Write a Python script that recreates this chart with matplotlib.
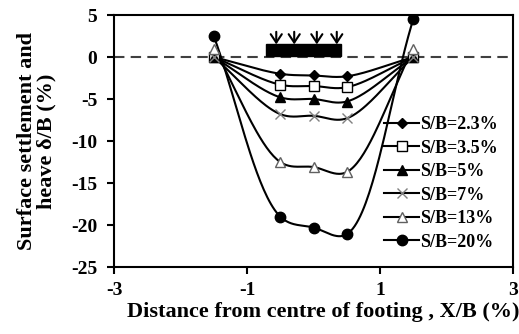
import numpy as np
import matplotlib
matplotlib.use("Agg")
import matplotlib.pyplot as plt
from matplotlib.patches import Rectangle

# ---- data ----
x_pos = [-1.5, -0.5, 0.0, 0.5, 1.5]
labels = ["S/B=2.3%", "S/B=3.5%", "S/B=5%", "S/B=7%", "S/B=13%", "S/B=20%"]
sb_2_3 = [0.0, -2.0, -2.2, -2.3, 0.0]
sb_3_5 = [0.0, -3.3, -3.45, -3.6, 0.0]
sb_5 = [0.0, -4.8, -5.0, -5.3, 0.0]
sb_7 = [0.0, -6.8, -7.0, -7.3, 0.0]
sb_13 = [1.0, -12.5, -13.1, -13.7, 1.0]
sb_20 = [2.5, -19.0, -20.3, -21.1, 4.5]
series = [sb_2_3, sb_3_5, sb_5, sb_7, sb_13, sb_20]

x_ticks = [-3, -1, 1, 3]
y_ticks = [5, 0, -5, -10, -15, -20, -25]

# footing sketch (annotation)
footing_x = (-0.71, 0.41)
footing_y = (0.1, 1.5)
arrow_x = [-0.56, -0.29, 0.05, 0.35]
arrow_top = 3.0

plt.rcParams['font.family'] = ['Liberation Serif', 'DejaVu Serif']
plt.rcParams['font.weight'] = 'bold'

styles = [
    dict(marker='D', mfc='black', mec='black', ms=5.5, mew=1.0),
    dict(marker='s', mfc='white', mec='black', ms=7, mew=1.0),
    dict(marker='^', mfc='black', mec='black', ms=7, mew=1.0),
    dict(marker='x', mfc='none', mec='#808080', ms=7, mew=1.0),
    dict(marker='^', mfc='white', mec='#606060', ms=7, mew=1.0),
    dict(marker='o', mfc='black', mec='black', ms=7.5, mew=1.0),
]


def centripetal_cr(P, n=40, alpha=0.5):
    P = np.asarray(P, float)
    P = np.vstack([P[0] - (P[1] - P[0]), P, P[-1] + (P[-1] - P[-2])])
    out = []
    for i in range(1, len(P) - 2):
        p0, p1, p2, p3 = P[i - 1], P[i], P[i + 1], P[i + 2]
        t0 = 0.0
        t1 = t0 + np.linalg.norm(p1 - p0) ** alpha
        t2 = t1 + np.linalg.norm(p2 - p1) ** alpha
        t3 = t2 + np.linalg.norm(p3 - p2) ** alpha
        t = np.linspace(t1, t2, n)[:, None]
        a1 = (t1 - t) / (t1 - t0) * p0 + (t - t0) / (t1 - t0) * p1
        a2 = (t2 - t) / (t2 - t1) * p1 + (t - t1) / (t2 - t1) * p2
        a3 = (t3 - t) / (t3 - t2) * p2 + (t - t2) / (t3 - t2) * p3
        b1 = (t2 - t) / (t2 - t0) * a1 + (t - t0) / (t2 - t0) * a2
        b2 = (t3 - t) / (t3 - t1) * a2 + (t - t1) / (t3 - t1) * a3
        c = (t2 - t) / (t2 - t1) * b1 + (t - t1) / (t2 - t1) * b2
        out.append(c if i == 1 else c[1:])
    return np.vstack(out)


fig = plt.figure(figsize=(5.19, 3.34), dpi=100)
ax = fig.add_axes([114 / 519, 1 - 267 / 334, (513 - 114) / 519, (267 - 15) / 334])
ax.set_xlim(-3, 3)
ax.set_ylim(-25, 5)

ax.axhline(0, color='#404040', lw=1.5, ls=(0, (5, 3)), zorder=1)

for ys, lab, st in zip(series, labels, styles):
    disp = ax.transData.transform(np.column_stack([x_pos, ys]))
    curve = ax.transData.inverted().transform(centripetal_cr(disp))
    ax.plot(curve[:, 0], curve[:, 1], color='black', lw=1.5, zorder=2)
    ax.plot(x_pos, ys, ls='none', zorder=3, **st)
    ax.plot([], [], color='black', lw=1.5, label=lab, **st)

ax.add_patch(Rectangle((footing_x[0], footing_y[0]), footing_x[1] - footing_x[0],
                       footing_y[1] - footing_y[0], facecolor='black', edgecolor='black', zorder=4))
for xa in arrow_x:
    ax.annotate('', xy=(xa, footing_y[1]), xytext=(xa, arrow_top),
                arrowprops=dict(arrowstyle='->,head_length=0.6,head_width=0.4', lw=1.5,
                                color='black', shrinkA=0, shrinkB=0),
                zorder=4)

ax.set_xticks(x_ticks)
ax.set_yticks(y_ticks)
ax.set_xticklabels([str(v) for v in x_ticks], fontsize=14, fontweight='bold')
ax.set_yticklabels([str(v) for v in y_ticks], fontsize=14, fontweight='bold')
ax.tick_params(axis='y', direction='out', length=5, width=1.5, pad=7)
ax.tick_params(axis='x', direction='out', length=5, width=1.5, pad=6)
for s in ax.spines.values():
    s.set_linewidth(1.5)

ax.set_xlabel('Distance from centre of footing , X/B (%)', fontsize=16, fontweight='bold')
ax.xaxis.set_label_coords(0.525, -0.14)
ax.set_ylabel('Surface settlement and\nheave \u03b4/B (%)', fontsize=16, fontweight='bold',
              linespacing=1.0)
ax.yaxis.set_label_coords(-0.143, 0.5)

ax.legend(loc='upper left', bbox_to_anchor=(384 / 519, 1 - 116 / 334), bbox_transform=fig.transFigure,
          frameon=False, fontsize=13, handlelength=1.95, labelspacing=0.36, borderpad=0,
          handletextpad=0.05, borderaxespad=0)

fig.savefig('out.png', dpi=100)
